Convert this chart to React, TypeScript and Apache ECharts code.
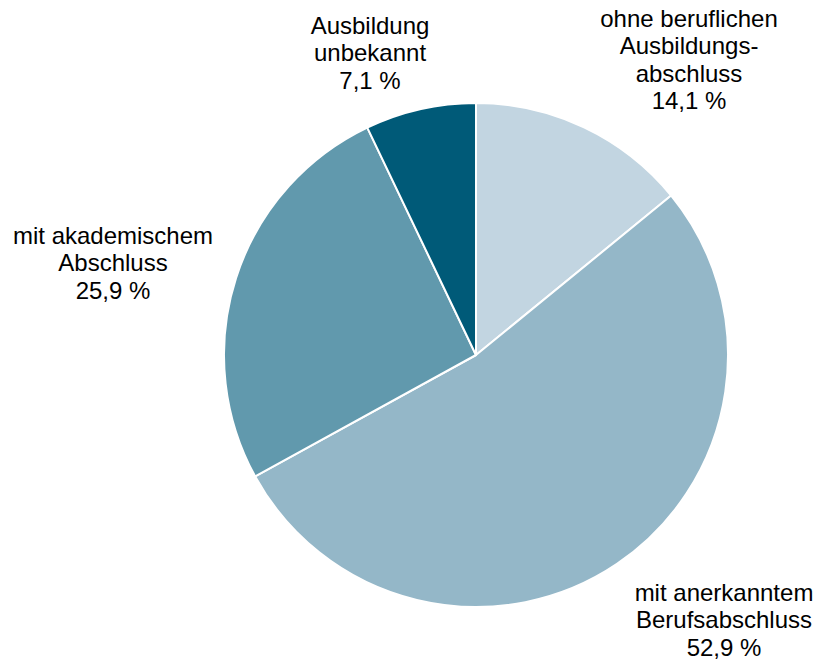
import React, { useEffect, useRef } from "react";
import * as echarts from "echarts";

const categories = [
  "ohne beruflichen\nAusbildungs-\nabschluss",
  "mit anerkanntem\nBerufsabschluss",
  "mit akademischem\nAbschluss",
  "Ausbildung\nunbekannt",
];
const values = [14.1, 52.9, 25.9, 7.1];
const colors = ["#c2d5e1", "#94b7c8", "#6199ad", "#005a78"];
const labelPos = [
  [689, 5],
  [724, 579],
  [113, 222],
  [370, 12],
];

export default function App() {
  const ref = useRef<HTMLDivElement>(null);
  useEffect(() => {
    document.body.style.margin = "0";
    const chart = echarts.init(ref.current!, null, { renderer: "svg" });
    chart.setOption({
      animation: false,
      series: [
        {
          type: "pie",
          center: [476, 355],
          radius: 252,
          startAngle: 90,
          clockwise: true,
          itemStyle: { borderColor: "#ffffff", borderWidth: 2 },
          label: {
            show: true,
            position: "outside",
            fontFamily: "Liberation Sans, Arial, sans-serif",
            fontSize: 24,
            lineHeight: 27.3,
            color: "#000000",
            align: "center",
            overflow: "none",
            formatter: (p: any) =>
              p.name + "\n" + p.value.toFixed(1).replace(".", ",") + " %",
          },
          labelLine: { show: false },
          labelLayout: (p: any) => ({
            x: labelPos[p.dataIndex][0],
            y: labelPos[p.dataIndex][1],
            align: "center",
            verticalAlign: "top",
          }),
          data: categories.map((c, i) => ({
            name: c,
            value: values[i],
            itemStyle: { color: colors[i] },
          })),
        },
      ],
    });
    return () => chart.dispose();
  }, []);
  return <div ref={ref} style={{ width: 817, height: 661 }} />;
}
